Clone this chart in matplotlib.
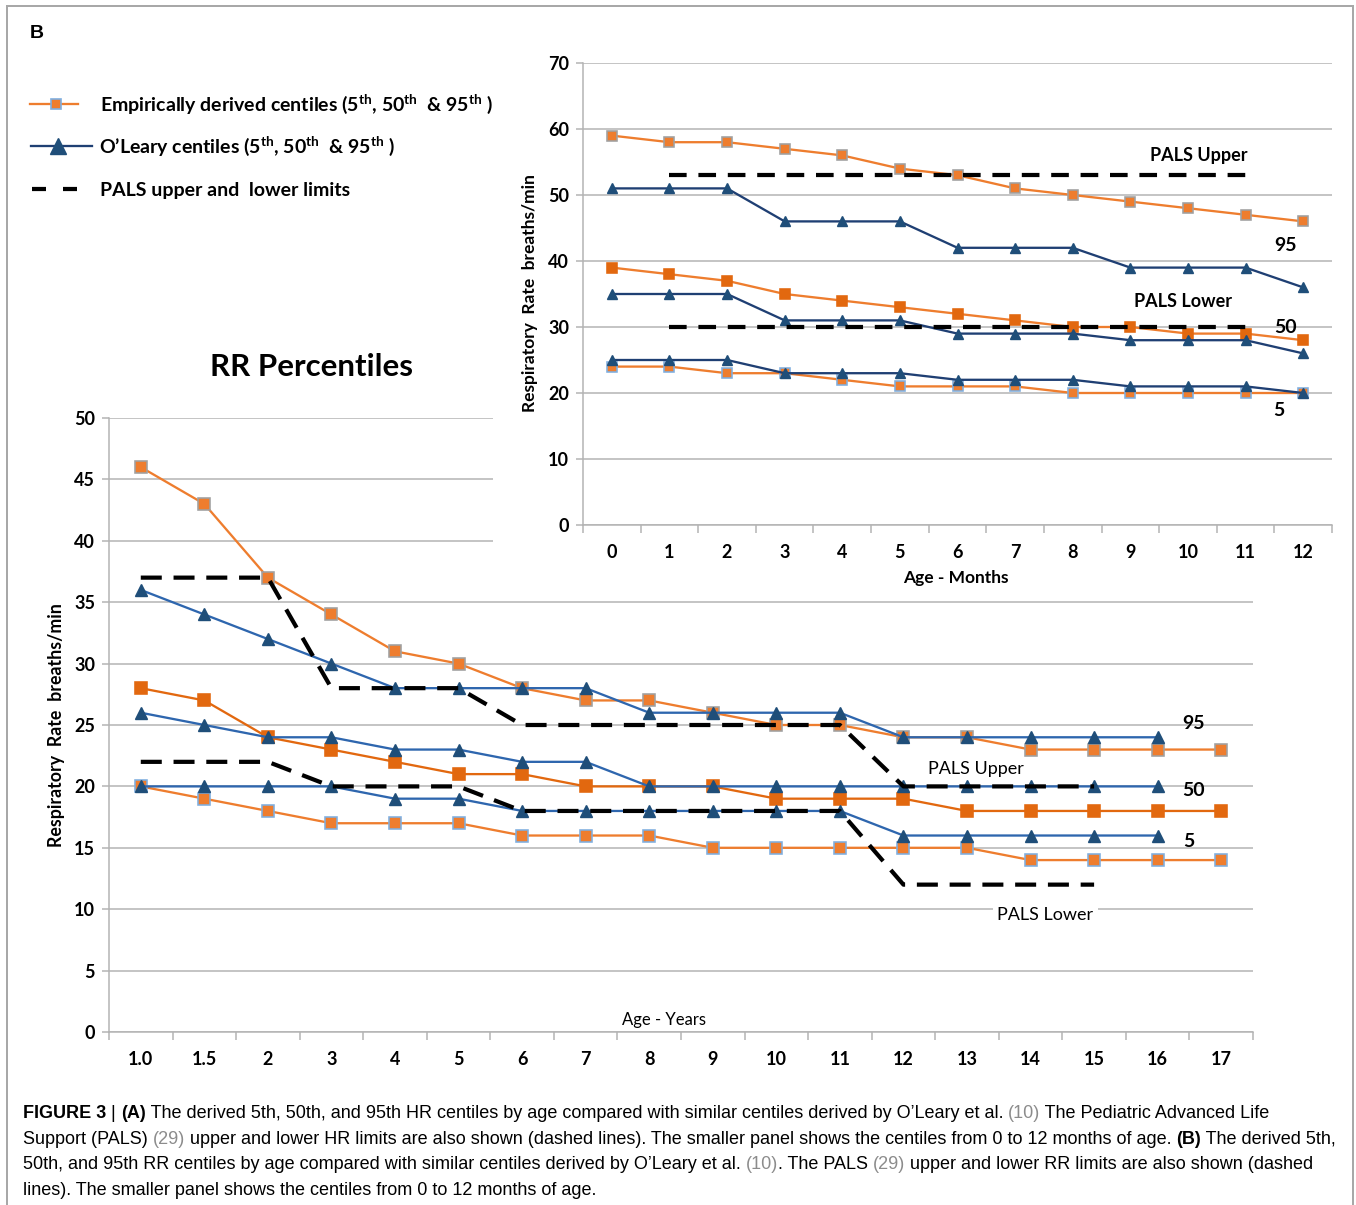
import matplotlib
matplotlib.use("Agg")
import matplotlib.pyplot as plt
from matplotlib.lines import Line2D
from matplotlib.patches import Rectangle
from matplotlib import font_manager as fm

# ---------------- data ----------------
years = ["1.0", "1.5", "2", "3", "4", "5", "6", "7", "8", "9", "10", "11", "12", "13", "14", "15", "16", "17"]
emp95_y = [46, 43, 37, 34, 31, 30, 28, 27, 27, 26, 25, 25, 24, 24, 23, 23, 23, 23]
emp50_y = [28, 27, 24, 23, 22, 21, 21, 20, 20, 20, 19, 19, 19, 18, 18, 18, 18, 18]
emp5_y = [20, 19, 18, 17, 17, 17, 16, 16, 16, 15, 15, 15, 15, 15, 14, 14, 14, 14]
ol95_y = [36, 34, 32, 30, 28, 28, 28, 28, 26, 26, 26, 26, 24, 24, 24, 24, 24]
ol50_y = [26, 25, 24, 24, 23, 23, 22, 22, 20, 20, 20, 20, 20, 20, 20, 20, 20]
ol5_y = [20, 20, 20, 20, 19, 19, 18, 18, 18, 18, 18, 18, 16, 16, 16, 16, 16]
pals_up_y = [37, 37, 37, 28, 28, 28, 25, 25, 25, 25, 25, 25, 20, 20, 20, 20]
pals_lo_y = [22, 22, 22, 20, 20, 20, 18, 18, 18, 18, 18, 18, 12, 12, 12, 12]

months = ["0", "1", "2", "3", "4", "5", "6", "7", "8", "9", "10", "11", "12"]
emp95_m = [59, 58, 58, 57, 56, 54, 53, 51, 50, 49, 48, 47, 46]
ol95_m = [51, 51, 51, 46, 46, 46, 42, 42, 42, 39, 39, 39, 36]
emp50_m = [39, 38, 37, 35, 34, 33, 32, 31, 30, 30, 29, 29, 28]
ol50_m = [35, 35, 35, 31, 31, 31, 29, 29, 29, 28, 28, 28, 26]
emp5_m = [24, 24, 23, 23, 22, 21, 21, 21, 20, 20, 20, 20, 20]
ol5_m = [25, 25, 25, 23, 23, 23, 22, 22, 22, 21, 21, 21, 20]
pals_up_m = [53] * 11   # months 1..11
pals_lo_m = [30] * 11

legend_labels = [
    r"Empirically derived centiles (5$^{\mathbf{th}}$, 50$^{\mathbf{th}}$  & 95$^{\mathbf{th}}$ )",
    r"O’Leary centiles (5$^{\mathbf{th}}$, 50$^{\mathbf{th}}$  & 95$^{\mathbf{th}}$ )",
    "PALS upper and  lower limits",
]

# ---------------- style ----------------
def has_font(name):
    try:
        fm.findfont(fm.FontProperties(family=name), fallback_to_default=False)
        return True
    except Exception:
        return False

CH = "Lato" if has_font("Lato") else "DejaVu Sans"
CAP = "Liberation Sans"
plt.rcParams["font.family"] = [CH, "DejaVu Sans"]
plt.rcParams["mathtext.fontset"] = "custom"
plt.rcParams["mathtext.rm"] = CH
plt.rcParams["mathtext.bf"] = CH + ":bold"

ORANGE = "#EE7D2E"
ORANGE_D = "#E2680F"
BLUE_L = "#2E66AE"
BLUE_D = "#1F3F73"
TRI = "#1F4E79"
GRID = "#B3B3B3"
PX = 0.72  # points per pixel at dpi 100

W, H = 1356, 1205
fig = plt.figure(figsize=(W / 100, H / 100), dpi=100)

def fx(px): return px / W
def fy(py): return 1 - py / H

# outer frame (left, top, right)
for xs, ys in [([7, 7], [1205, 6]), ([7, 1353], [6, 6]), ([1353, 1353], [6, 1205])]:
    fig.add_artist(Line2D([fx(x) for x in xs], [fy(y) for y in ys], color="#A8A8A8", lw=2 * PX, zorder=10))

fig.text(fx(30), fy(33), "B", fontsize=14, fontweight="bold", family="Liberation Sans", va="center", ha="left")

def style_axes(ax, n, ymax, ystep):
    ax.set_xlim(-0.5, n - 0.5)
    ax.set_ylim(0, ymax)
    ax.set_yticks(range(0, ymax + 1, ystep))
    ax.set_xticks(range(n))
    ax.set_xticks([i - 0.5 for i in range(n + 1)], minor=True)
    ax.tick_params(axis="x", which="major", length=0, pad=14, labelsize=13)
    ax.tick_params(axis="x", which="minor", length=6, width=1.5 * PX, color=GRID, direction="out")
    ax.tick_params(axis="y", length=5, width=1.5 * PX, color=GRID, pad=5, labelsize=13)
    for lab in ax.get_xticklabels() + ax.get_yticklabels():
        lab.set_fontweight("bold")
    for s in ["top", "right"]:
        ax.spines[s].set_visible(False)
    for s in ["left", "bottom"]:
        ax.spines[s].set_color(GRID)
        ax.spines[s].set_linewidth(1.5 * PX)
    ax.yaxis.grid(True, color=GRID, lw=1.5 * PX)
    ax.set_axisbelow(True)

def emp(ax, y, mec, col, lc, ms):
    ax.plot(range(len(y)), y, color=lc, lw=2.3 * PX, marker="s", ms=ms, mfc=col, mec=mec, mew=1.6 * PX, zorder=3)

def ol(ax, y, lc, ms):
    ax.plot(range(len(y)), y, color=lc, lw=2.3 * PX, marker="^", ms=ms, mfc=TRI, mec=TRI, zorder=4)

def pals(ax, x0, y, dashes):
    ax.plot(range(x0, x0 + len(y)), y, color="black", lw=4.2 * PX, dashes=dashes, zorder=5)

# ---------------- main chart ----------------
ax = fig.add_axes([fx(109), fy(1032), fx(1144), 614 / H], zorder=0)
style_axes(ax, len(years), 50, 5)
ax.set_xticklabels(years)
emp(ax, emp95_y, "#A0A0A0", ORANGE, ORANGE, 8.3)
emp(ax, emp50_y, ORANGE_D, ORANGE_D, ORANGE_D, 8.3)
emp(ax, emp5_y, "#7FAEDF", ORANGE, ORANGE, 8.3)
ol(ax, ol95_y, BLUE_L, 8)
ol(ax, ol50_y, BLUE_L, 8)
ol(ax, ol5_y, BLUE_L, 8)
pals(ax, 0, pals_up_y, (5, 2.8))
pals(ax, 0, pals_lo_y, (5, 2.8))

ax.text(16.57, 25.1, "95", fontsize=14, fontweight="bold", ha="center", va="center", zorder=6)
ax.text(16.57, 19.7, "50", fontsize=14, fontweight="bold", ha="center", va="center", zorder=6)
ax.text(16.49, 15.55, "5", fontsize=14, fontweight="bold", ha="center", va="center", zorder=6)
ax.text(13.14, 21.4, "PALS Upper", fontsize=13, ha="center", va="center", zorder=6)
ax.text(14.23, 9.5, "PALS Lower", fontsize=13, ha="center", va="center", zorder=6,
        bbox=dict(boxstyle="square,pad=0.25", fc="white", ec="none"))
ax.text(8.23, 0.98, "Age - Years", fontsize=12, ha="center", va="center")
ax.text(-0.0455, 0.5, "Respiratory  Rate  breaths/min", transform=ax.transAxes, rotation=90,
        fontsize=12.8, fontweight="bold", ha="center", va="center")
fig.text(fx(311), fy(367), "RR Percentiles", fontsize=22.5, fontweight="bold", ha="center", va="center")

# white panel behind inset
fig.add_artist(Rectangle((fx(493), fy(598)), fx(847), 548 / H, transform=fig.transFigure,
                         fc="white", ec="none", zorder=1))

# ---------------- inset chart ----------------
ai = fig.add_axes([fx(583), fy(525), fx(749), 462 / H], zorder=2)
ai.patch.set_alpha(0)
style_axes(ai, len(months), 70, 10)
ai.set_xticklabels(months)
emp(ai, emp95_m, "#A0A0A0", ORANGE, ORANGE, 7.8)
ol(ai, ol95_m, BLUE_D, 7.5)
emp(ai, emp50_m, ORANGE_D, ORANGE_D, ORANGE, 7.8)
ol(ai, ol50_m, BLUE_D, 7.5)
emp(ai, emp5_m, "#7FAEDF", ORANGE, ORANGE, 7.8)
ol(ai, ol5_m, BLUE_D, 7.5)
pals(ai, 1, pals_up_m, (4.2, 2.8))
pals(ai, 1, pals_lo_m, (4.2, 2.8))
ai.text(10.19, 56.06, "PALS Upper", fontsize=13, fontweight="bold", ha="center", va="center", zorder=6)
ai.text(9.92, 33.9, "PALS Lower", fontsize=13, fontweight="bold", ha="center", va="center", zorder=6)
ai.text(11.69, 42.3, "95", fontsize=14, fontweight="bold", ha="center", va="center", zorder=6)
ai.text(11.69, 29.85, "50", fontsize=14, fontweight="bold", ha="center", va="center", zorder=6)
ai.text(11.58, 17.3, "5", fontsize=14, fontweight="bold", ha="center", va="center", zorder=6)
ai.text(0.498, -0.115, "Age - Months", transform=ai.transAxes, fontsize=12.5, fontweight="bold",
        ha="center", va="center")
ai.text(-0.0708, 0.502, "Respiratory  Rate  breaths/min", transform=ai.transAxes, rotation=90,
        fontsize=12.5, fontweight="bold", ha="center", va="center")

# ---------------- legend (manual) ----------------
leg_y = [104, 146, 189]
fig.add_artist(Line2D([fx(30), fx(78)], [fy(leg_y[0])] * 2, color=ORANGE, lw=2.3 * PX))
fig.add_artist(Line2D([fx(56)], [fy(leg_y[0])], marker="s", ms=7, mfc=ORANGE, mec="#7FAEDF", mew=1.2, lw=0))
fig.add_artist(Line2D([fx(31), fx(92)], [fy(leg_y[1])] * 2, color=BLUE_D, lw=2.3 * PX))
fig.add_artist(Line2D([fx(58)], [fy(leg_y[1])], marker="^", ms=11, mfc=TRI, mec=TRI, lw=0))
for x0, x1 in [(32, 46), (63, 77)]:
    fig.add_artist(Line2D([fx(x0), fx(x1)], [fy(leg_y[2])] * 2, color="black", lw=4.2 * PX,
                          solid_capstyle="butt"))
for lab, yy, x0 in zip(legend_labels, leg_y, [100, 99, 100]):
    fig.text(fx(x0), fy(yy + 7), lab, fontsize=14, fontweight="bold", ha="left", va="baseline")

# ---------------- caption ----------------
axc = fig.add_axes([0, 0, 1, 1], zorder=20)
axc.axis("off")
axc.set_xlim(0, 1)
axc.set_ylim(0, 1)
GRAY = "#8C8C8C"
cap_lines = [
    [("FIGURE 3", "bold", "black"), (" | ", "normal", "black"), ("(A)", "bold", "black"),
     (" The derived 5th, 50th, and 95th HR centiles by age compared with similar centiles derived by O’Leary et al. ", "normal", "black"),
     ("(10)", "normal", GRAY), (" The Pediatric Advanced Life", "normal", "black")],
    [("Support (PALS) ", "normal", "black"), ("(29)", "normal", GRAY),
     (" upper and lower HR limits are also shown (dashed lines). The smaller panel shows the centiles from 0 to 12 months of age. ", "normal", "black"),
     ("(B)", "bold", "black"), (" The derived 5th,", "normal", "black")],
    [("50th, and 95th RR centiles by age compared with similar centiles derived by O’Leary et al. ", "normal", "black"),
     ("(10)", "normal", GRAY), (". The PALS ", "normal", "black"), ("(29)", "normal", GRAY),
     (" upper and lower RR limits are also shown (dashed", "normal", "black")],
    [("lines). The smaller panel shows the centiles from 0 to 12 months of age.", "normal", "black")],
]
cap_y = [1113, 1139, 1164, 1190]
csize = 12.95
for segs, yy in zip(cap_lines, cap_y):
    prev = None
    for txt, wt, col in segs:
        kw = dict(fontsize=csize, fontweight=wt, color=col, family=CAP, ha="left", va="bottom")
        if prev is None:
            prev = axc.text(fx(23), fy(yy + 9), txt, **kw)
        else:
            prev = axc.annotate(txt, xy=(1, 0), xycoords=prev, **kw)

fig.savefig("out.png", dpi=100)
